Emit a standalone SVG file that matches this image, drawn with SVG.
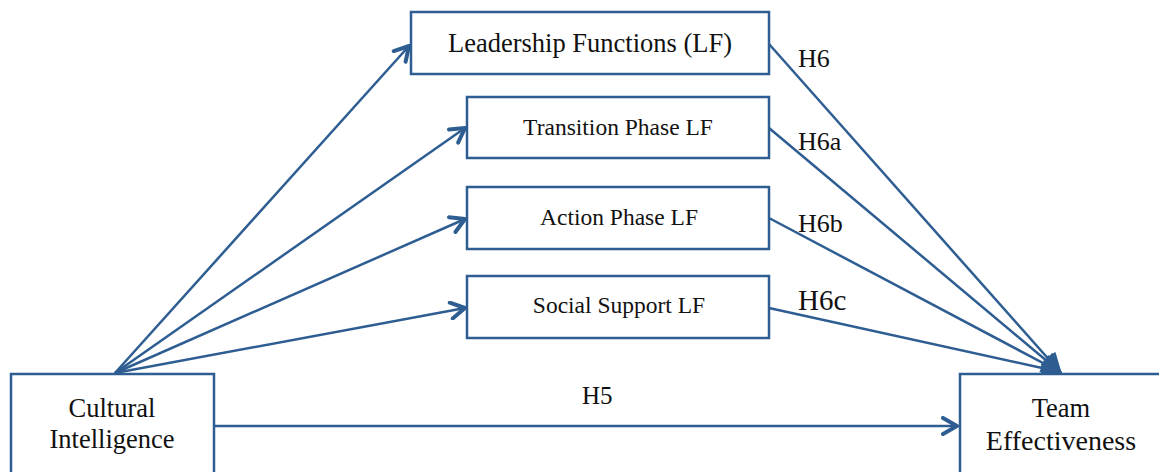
<svg xmlns="http://www.w3.org/2000/svg" width="1159" height="472" viewBox="0 0 1159 472">
  <style>
    .box { fill: #ffffff; stroke: #2e5d92; stroke-width: 2.5; }
    .lbl { fill: #111111; text-anchor: middle; }
    .edge { stroke: #2e5d92; stroke-width: 2.5; fill: none; }
    .hyp { fill: #111111; }
  </style>
  <defs>
    <marker id="open2" viewBox="0 0 20 20" refX="18" refY="10" markerWidth="20" markerHeight="20" markerUnits="userSpaceOnUse" orient="auto">
      <path d="M4,2 L18,10 L4,18" fill="none" stroke="#2e5d92" stroke-width="4" stroke-linecap="round" stroke-linejoin="round"/>
    </marker>
    <marker id="solid" viewBox="0 0 20 20" refX="18" refY="10" markerWidth="22" markerHeight="22" markerUnits="userSpaceOnUse" orient="auto">
      <path d="M2,2 L19,10 L2,18 Z" fill="#2e5d92" stroke="#2e5d92" stroke-width="1.5" stroke-linejoin="round"/>
    </marker>
  </defs>

  <rect width="1159" height="472" fill="#ffffff"/>

  <g id="connectors">
    <line class="edge" x1="115" y1="373" x2="409" y2="46" marker-end="url(#open2)"/>
    <line class="edge" x1="115" y1="373" x2="465" y2="128" marker-end="url(#open2)"/>
    <line class="edge" x1="115" y1="373" x2="465" y2="219" marker-end="url(#open2)"/>
    <line class="edge" x1="115" y1="373" x2="465" y2="308" marker-end="url(#open2)"/>
    <line class="edge" x1="769" y1="44" x2="1060" y2="372" marker-end="url(#solid)"/>
    <line class="edge" x1="769" y1="128" x2="1060" y2="372" marker-end="url(#solid)"/>
    <line class="edge" x1="769" y1="218" x2="1060" y2="372" marker-end="url(#solid)"/>
    <line class="edge" x1="769" y1="308" x2="1060" y2="372" marker-end="url(#solid)"/>
    <line class="edge" x1="214" y1="426" x2="957" y2="426" marker-end="url(#open2)"/>
    <g font-family="'Liberation Serif', 'Times New Roman', serif">
      <text class="hyp" x="798" y="67" font-size="26">H6</text>
      <text class="hyp" x="798" y="150" font-size="26">H6a</text>
      <text class="hyp" x="798" y="232" font-size="26">H6b</text>
      <text class="hyp" x="798" y="310" font-size="29">H6c</text>
      <text class="hyp" x="582" y="404" font-size="25">H5</text>
    </g>
  </g>

  <g font-family="'Liberation Serif', 'Times New Roman', serif">
    <g id="node-lf">
      <rect class="box" x="411" y="12" width="358" height="62"/>
      <text class="lbl" x="590" y="52" font-size="26.5">Leadership Functions (LF)</text>
    </g>
    <g id="node-transition">
      <rect class="box" x="467" y="97" width="302" height="61"/>
      <text class="lbl" x="618" y="135" font-size="23.5">Transition Phase LF</text>
    </g>
    <g id="node-action">
      <rect class="box" x="467" y="187" width="302" height="62"/>
      <text class="lbl" x="619" y="225" font-size="23.5">Action Phase LF</text>
    </g>
    <g id="node-social">
      <rect class="box" x="467" y="276" width="302" height="62"/>
      <text class="lbl" x="619" y="313" font-size="23.5">Social Support LF</text>
    </g>
    <g id="node-ci">
      <rect class="box" x="11" y="374" width="203" height="110"/>
      <text class="lbl" x="112" y="417" font-size="26.5">Cultural</text>
      <text class="lbl" x="112" y="448" font-size="26.5">Intelligence</text>
    </g>
    <g id="node-te">
      <rect class="box" x="960" y="374" width="210" height="110"/>
      <text class="lbl" x="1061" y="417" font-size="26.5">Team</text>
      <text class="lbl" x="1061" y="450" font-size="28">Effectiveness</text>
    </g>
  </g>
</svg>
